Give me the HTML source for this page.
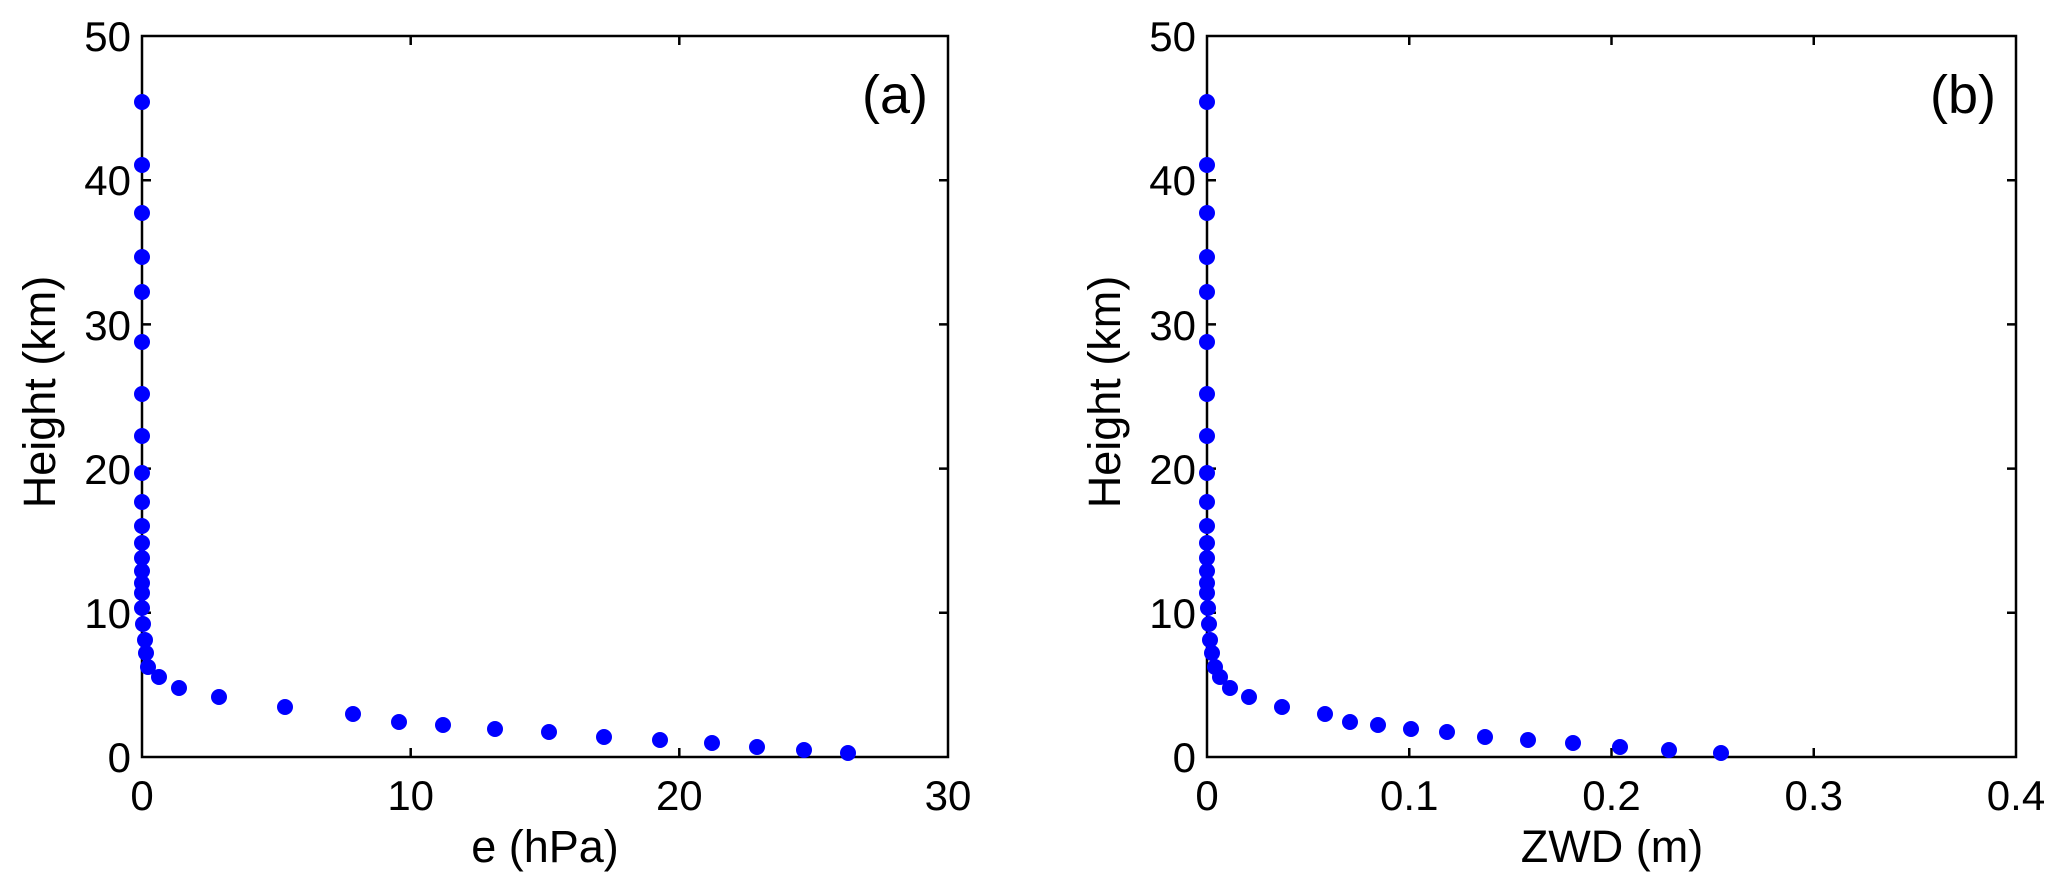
<!DOCTYPE html>
<html><head><meta charset="utf-8"><style>
html,body{margin:0;padding:0;background:#fff;}
svg{display:block;font-family:"Liberation Sans",Arial,sans-serif;}
</style></head><body>
<svg width="2067" height="893" viewBox="0 0 2067 893" xmlns="http://www.w3.org/2000/svg">
<rect width="2067" height="893" fill="#fff"/>
<!-- Left plot -->
<g stroke="#000" stroke-width="2.5" fill="none">
<rect x="142" y="36" width="806" height="721"/>
<path d="M410.7 757v-9M679.3 757v-9M410.7 36v9M679.3 36v9"/>
<path d="M142 612.8h9M142 468.6h9M142 324.4h9M142 180.2h9M948 612.8h-9M948 468.6h-9M948 324.4h-9M948 180.2h-9"/>
</g>
<g font-size="42" fill="#000" text-anchor="end">
<text x="131" y="772">0</text><text x="131" y="628">10</text><text x="131" y="484">20</text><text x="131" y="340">30</text><text x="131" y="195">40</text><text x="131" y="51">50</text>
</g>
<g font-size="42" fill="#000" text-anchor="middle">
<text x="142" y="810">0</text><text x="410.7" y="810">10</text><text x="679.3" y="810">20</text><text x="948" y="810">30</text>
<text x="545" y="862" font-size="45">e (hPa)</text>
<text x="895" y="113" font-size="54">(a)</text>
<text transform="translate(55,392) rotate(-90)" font-size="45">Height (km)</text>
</g>
<g fill="#0000ff">
<circle cx="848" cy="753" r="8"/><circle cx="804" cy="750" r="8"/><circle cx="757" cy="747" r="8"/><circle cx="712" cy="743" r="8"/><circle cx="660" cy="740" r="8"/><circle cx="604" cy="737" r="8"/><circle cx="549" cy="732" r="8"/><circle cx="495" cy="729" r="8"/><circle cx="443" cy="725" r="8"/><circle cx="399" cy="722" r="8"/><circle cx="353" cy="714" r="8"/><circle cx="285" cy="707" r="8"/><circle cx="219" cy="697" r="8"/><circle cx="179" cy="688" r="8"/><circle cx="159" cy="677" r="8"/><circle cx="148" cy="667" r="8"/><circle cx="146" cy="653" r="8"/><circle cx="145" cy="640" r="8"/><circle cx="143" cy="624" r="8"/><circle cx="142" cy="608" r="8"/><circle cx="142" cy="593" r="8"/><circle cx="142" cy="583" r="8"/><circle cx="142" cy="571" r="8"/><circle cx="142" cy="558" r="8"/><circle cx="142" cy="543" r="8"/><circle cx="142" cy="526" r="8"/><circle cx="142" cy="502" r="8"/><circle cx="142" cy="473" r="8"/><circle cx="142" cy="436" r="8"/><circle cx="142" cy="394" r="8"/><circle cx="142" cy="342" r="8"/><circle cx="142" cy="292" r="8"/><circle cx="142" cy="257" r="8"/><circle cx="142" cy="213" r="8"/><circle cx="142" cy="165" r="8"/><circle cx="142" cy="102" r="8"/>
</g>
<!-- Right plot -->
<g stroke="#000" stroke-width="2.5" fill="none">
<rect x="1207" y="36" width="809" height="721"/>
<path d="M1409.25 757v-9M1611.5 757v-9M1813.75 757v-9M1409.25 36v9M1611.5 36v9M1813.75 36v9"/>
<path d="M1207 612.8h9M1207 468.6h9M1207 324.4h9M1207 180.2h9M2016 612.8h-9M2016 468.6h-9M2016 324.4h-9M2016 180.2h-9"/>
</g>
<g font-size="42" fill="#000" text-anchor="end">
<text x="1196" y="772">0</text><text x="1196" y="628">10</text><text x="1196" y="484">20</text><text x="1196" y="340">30</text><text x="1196" y="195">40</text><text x="1196" y="51">50</text>
</g>
<g font-size="42" fill="#000" text-anchor="middle">
<text x="1207" y="810">0</text><text x="1409.25" y="810">0.1</text><text x="1611.5" y="810">0.2</text><text x="1813.75" y="810">0.3</text><text x="2016" y="810">0.4</text>
<text x="1612" y="862" font-size="45">ZWD (m)</text>
<text x="1963" y="113" font-size="54">(b)</text>
<text transform="translate(1120,392) rotate(-90)" font-size="45">Height (km)</text>
</g>
<g fill="#0000ff">
<circle cx="1721" cy="753" r="8"/><circle cx="1669" cy="750" r="8"/><circle cx="1620" cy="747" r="8"/><circle cx="1573" cy="743" r="8"/><circle cx="1528" cy="740" r="8"/><circle cx="1485" cy="737" r="8"/><circle cx="1447" cy="732" r="8"/><circle cx="1411" cy="729" r="8"/><circle cx="1378" cy="725" r="8"/><circle cx="1350" cy="722" r="8"/><circle cx="1325" cy="714" r="8"/><circle cx="1282" cy="707" r="8"/><circle cx="1249" cy="697" r="8"/><circle cx="1230" cy="688" r="8"/><circle cx="1220" cy="677" r="8"/><circle cx="1215" cy="667" r="8"/><circle cx="1212" cy="653" r="8"/><circle cx="1210" cy="640" r="8"/><circle cx="1209" cy="624" r="8"/><circle cx="1208" cy="608" r="8"/><circle cx="1207" cy="593" r="8"/><circle cx="1207" cy="583" r="8"/><circle cx="1207" cy="571" r="8"/><circle cx="1207" cy="558" r="8"/><circle cx="1207" cy="543" r="8"/><circle cx="1207" cy="526" r="8"/><circle cx="1207" cy="502" r="8"/><circle cx="1207" cy="473" r="8"/><circle cx="1207" cy="436" r="8"/><circle cx="1207" cy="394" r="8"/><circle cx="1207" cy="342" r="8"/><circle cx="1207" cy="292" r="8"/><circle cx="1207" cy="257" r="8"/><circle cx="1207" cy="213" r="8"/><circle cx="1207" cy="165" r="8"/><circle cx="1207" cy="102" r="8"/>
</g>
</svg>
</body></html>
